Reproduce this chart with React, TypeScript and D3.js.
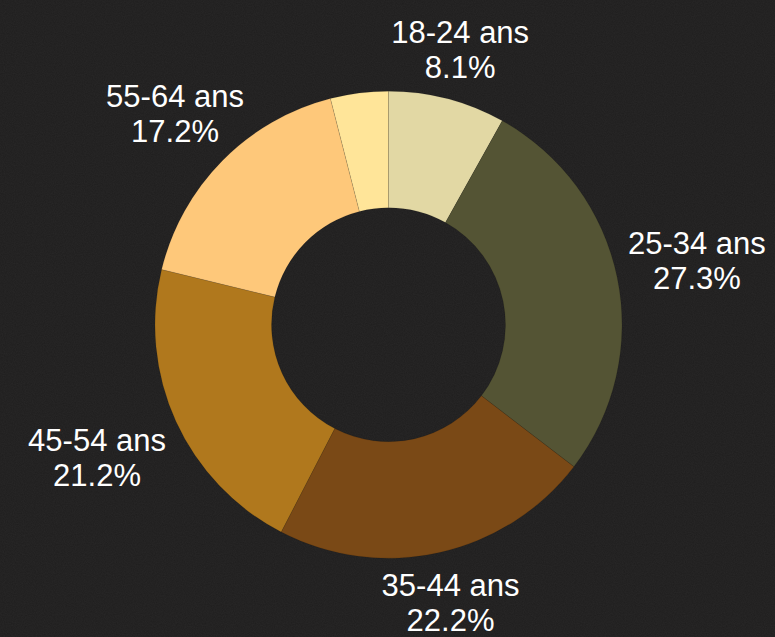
import React, { useMemo } from "react";
import * as d3 from "d3";

const categories = ["18-24 ans", "25-34 ans", "35-44 ans", "45-54 ans", "55-64 ans", "65+ ans"];
const values = [8.1, 27.3, 22.2, 21.2, 17.2, 4.0];
const colors = ["#e2d8a4", "#545434", "#7a4916", "#b0781d", "#fec87a", "#ffe599"];
const showLabel = [true, true, true, true, true, false];

const W = 775;
const H = 637;
const FONT = "31px 'Liberation Sans', Arial, sans-serif";

function measure(text: string): number {
  const c = document.createElement("canvas");
  const ctx = c.getContext("2d");
  if (!ctx) return text.length * 15;
  ctx.font = FONT;
  return ctx.measureText(text).width;
}

export default function App() {
  const cx = 388.5;
  const cy = 324.7;
  const R = 233.5;
  const r = 117;

  const arcs = useMemo(
    () =>
      d3
        .pie<number>()
        .sort(null)
        .value((d) => d)(values),
    []
  );
  const arcGen = d3.arc<d3.PieArcDatum<number>>().innerRadius(r).outerRadius(R);

  return (
    <div style={{ position: "fixed", left: 0, top: 0, width: W, height: H }}>
      <svg width={W} height={H} style={{ display: "block" }}>
        <defs>
          <filter id="noise" x="0" y="0" width="100%" height="100%">
            <feTurbulence type="fractalNoise" baseFrequency="0.9" numOctaves="2" seed="3" result="n" />
            <feColorMatrix
              type="matrix"
              values="0 0 0 0 0.5  0 0 0 0 0.5  0 0 0 0 0.5  0 0 0 0.18 0"
            />
          </filter>
        </defs>
        <rect x={0} y={0} width={W} height={H} fill="#1f1e1e" />
        <rect x={0} y={0} width={W} height={H} filter="url(#noise)" opacity={0.35} />
        <g transform={`translate(${cx},${cy})`}>
          {arcs.map((a, i) => (
            <path
              key={categories[i]}
              d={arcGen(a) || ""}
              fill={colors[i]}
              stroke="rgba(0,0,0,0.12)"
              strokeWidth={0.8}
            />
          ))}
          {arcs.map((a, i) => {
            if (!showLabel[i]) return null;
            const line1 = categories[i];
            const line2 = `${values[i].toFixed(1)}%`;
            const tw = Math.max(measure(line1), measure(line2));
            const theta = (a.startAngle + a.endAngle) / 2;
            const s = Math.abs(Math.sin(theta));
            const c = Math.abs(Math.cos(theta));
            const hw = tw / 2;
            const hh = 39;
            const off = 11;
            const ext = Math.min(s > 1e-6 ? hw / s : Infinity, c > 1e-6 ? hh / c : Infinity);
            const dist = R + off + ext;
            const lx = Math.sin(theta) * dist;
            const ly = -Math.cos(theta) * dist;
            return (
              <text
                key={"l" + i}
                textAnchor="middle"
                fill="#ffffff"
                style={{ font: FONT }}
              >
                <tspan x={lx} y={ly - 6.5}>
                  {line1}
                </tspan>
                <tspan x={lx} y={ly + 28.5}>
                  {line2}
                </tspan>
              </text>
            );
          })}
        </g>
      </svg>
    </div>
  );
}
